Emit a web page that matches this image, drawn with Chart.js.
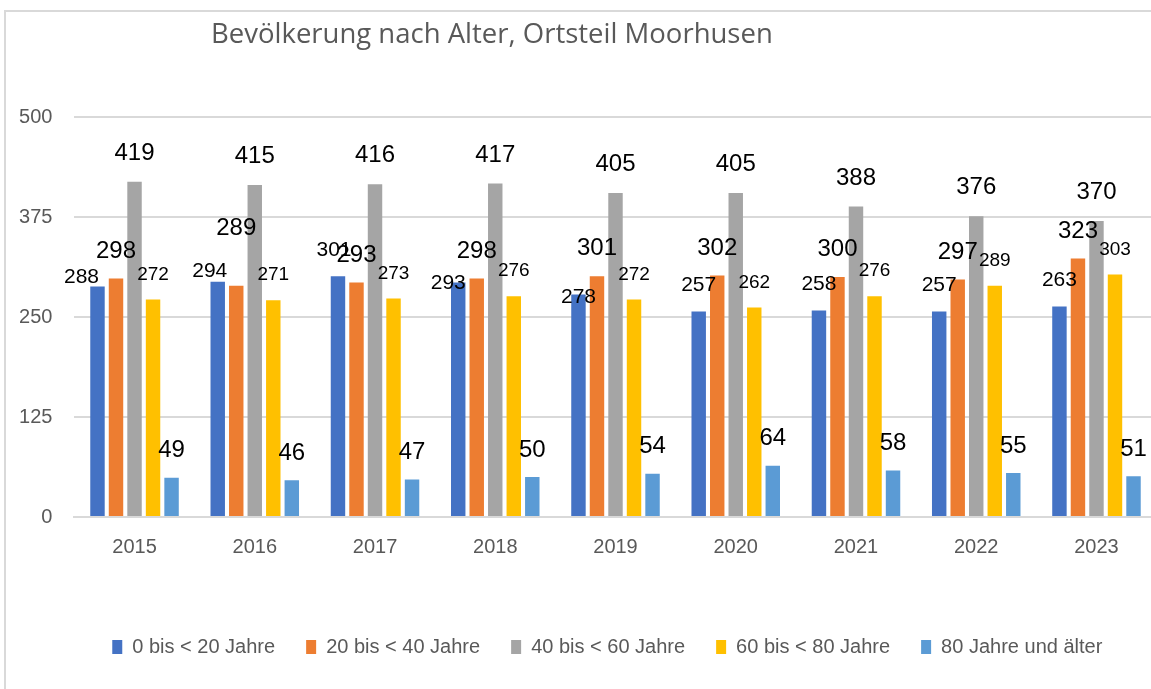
<!DOCTYPE html>
<html lang="de">
<head>
<meta charset="utf-8">
<title>Bevölkerung nach Alter, Ortsteil Moorhusen</title>
<script src="https://cdn.jsdelivr.net/npm/chart.js@4.4.1/dist/chart.umd.min.js"></script>
<style>
  html, body { margin: 0; padding: 0; background: #fff; overflow: hidden; }
  #frame {
    position: absolute; left: 4px; top: 10px; width: 1300px; height: 800px;
    border-left: 2px solid #d9d9d9; border-top: 2px solid #d9d9d9;
  }
  #wrap { position: absolute; left: 0; top: 0; width: 1210px; height: 689px; }
</style>
</head>
<body>
<div id="frame"></div>
<div id="wrap"><canvas id="popChart" width="1210" height="689"></canvas></div>
<script>
// Data
const chartTitle = 'Bevölkerung nach Alter, Ortsteil Moorhusen';
const years = ['2015', '2016', '2017', '2018', '2019', '2020', '2021', '2022', '2023'];
const seriesNames = ['0 bis < 20 Jahre', '20 bis < 40 Jahre', '40 bis < 60 Jahre', '60 bis < 80 Jahre', '80 Jahre und älter'];

const age0to20  = [288, 294, 301, 293, 278, 257, 258, 257, 263];
const age20to40 = [298, 289, 293, 298, 301, 302, 300, 297, 323];
const age40to60 = [419, 415, 416, 417, 405, 405, 388, 376, 370];
const age60to80 = [272, 271, 273, 276, 272, 262, 276, 289, 303];
const age80plus = [49, 46, 47, 50, 54, 64, 58, 55, 51];

const yTicks = [0, 125, 250, 375, 500];

// Styling
const seriesColors = ['#4472c4', '#ed7d31', '#a5a5a5', '#ffc000', '#5b9bd5'];
const labelFontSize = [21, 24, 24, 19, 24];
const labelLift = [26, 27.5, 28.5, 25, 27];
// hand-moved labels in the original (px, per year)
const labelNudge = {
  0: [[-16, 17], [-8, 15], [-4, 0], [-10, 27], [0, 29], [0, 0], [0, 0], [0, 0], [0, 0]],
  1: [[0, 0], [0, -30], [0, 0], [0, 0], [0, 0], [0, 0], [0, 0], [0, 0], [0, 0]]
};
const textFont = '"Liberation Sans", Arial, sans-serif';
const greyText = '#595959';
const legendShift = 29; // original legend is centred on a wider frame

const seriesValues = [age0to20, age20to40, age40to60, age60to80, age80plus];

const sideTitle = {
  id: 'sideTitle',
  afterLayout(chart) {
    if (chart.legend) {
      chart.legend.left += legendShift;
      chart.legend.right += legendShift;
    }
  },
  afterDraw(chart) {
    const { ctx } = chart;
    ctx.save();
    ctx.font = '27.5px "Open Sans", sans-serif';
    ctx.fillStyle = greyText;
    ctx.textAlign = 'left';
    ctx.textBaseline = 'alphabetic';
    ctx.fillText(chartTitle, 211, 43);
    ctx.restore();
  }
};

const barValueLabels = {
  id: 'barValueLabels',
  afterDatasetsDraw(chart) {
    const { ctx } = chart;
    ctx.save();
    ctx.fillStyle = '#000';
    ctx.textAlign = 'center';
    ctx.textBaseline = 'middle';
    chart.data.datasets.forEach((ds, i) => {
      const meta = chart.getDatasetMeta(i);
      ctx.font = `${labelFontSize[i]}px ${textFont}`;
      meta.data.forEach((bar, j) => {
        const nudge = (labelNudge[i] && labelNudge[i][j]) || [0, 0];
        ctx.fillText(String(ds.data[j]), bar.x + nudge[0], bar.y - labelLift[i] + nudge[1]);
      });
    });
    ctx.restore();
  }
};

const ctx = document.getElementById('popChart').getContext('2d');

new Chart(ctx, {
  type: 'bar',
  data: {
    labels: years,
    datasets: seriesNames.map((name, i) => ({
      label: name,
      data: seriesValues[i],
      backgroundColor: seriesColors[i],
      borderWidth: 0,
      barPercentage: 0.78,
      categoryPercentage: 0.77
    }))
  },
  options: {
    responsive: false,
    animation: false,
    layout: { padding: { left: 0, right: 53.4, top: 117, bottom: 22 } },
    plugins: {
      title: { display: false },
      tooltip: { enabled: false },
      legend: {
        position: 'bottom',
        labels: {
          boxWidth: 10,
          boxHeight: 14,
          padding: 31,
          color: greyText,
          font: { family: textFont, size: 20 }
        }
      }
    },
    scales: {
      x: {
        grid: { display: false, drawTicks: false },
        border: { display: true, color: '#d9d9d9', width: 2 },
        ticks: { color: greyText, font: { family: textFont, size: 20 }, padding: 18, maxRotation: 0 },
        afterFit: (s) => { s.height = 89; }
      },
      y: {
        min: yTicks[0],
        max: yTicks[yTicks.length - 1],
        afterBuildTicks: (s) => { s.ticks = yTicks.map(v => ({ value: v })); },
        ticks: { color: greyText, font: { family: textFont, size: 20 }, padding: 22 },
        grid: { color: '#d9d9d9', lineWidth: 2, drawTicks: false },
        border: { display: false },
        afterFit: (s) => { s.width = 74.4; }
      }
    }
  },
  plugins: [sideTitle, barValueLabels]
});
</script>
</body>
</html>
